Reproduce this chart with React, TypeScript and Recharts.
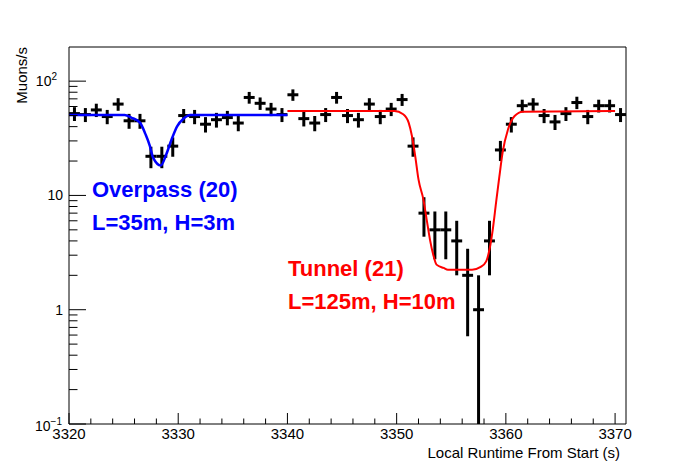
import { ComposedChart, Scatter, Line, XAxis, YAxis, ErrorBar } from 'recharts'

// 1 s bins, muon counts per bin
const binCenters = [
  3320.5, 3321.5, 3322.5, 3323.5, 3324.5, 3325.5, 3326.5, 3327.5, 3328.5, 3329.5,
  3330.5, 3331.5, 3332.5, 3333.5, 3334.5, 3335.5, 3336.5, 3337.5, 3338.5, 3339.5,
  3340.5, 3341.5, 3342.5, 3343.5, 3344.5, 3345.5, 3346.5, 3347.5, 3348.5, 3349.5,
  3350.5, 3351.5, 3352.5, 3353.5, 3354.5, 3355.5, 3356.5, 3357.5, 3358.5, 3359.5,
  3360.5, 3361.5, 3362.5, 3363.5, 3364.5, 3365.5, 3366.5, 3367.5, 3368.5, 3369.5,
  3370.5,
]
const muonRate = [
  52, 51, 56, 49, 63, 45, 45, 22, 22, 27,
  50, 49, 42, 46, 48, 43, 72, 64, 57, 51,
  76, 47, 43, 51, 72, 50, 46, 63, 49, 57,
  69, 27, 7, 5, 5, 4, 2, 1, 4, 25,
  42, 61, 63, 50, 44, 52, 65, 49, 61, 61,
  51,
]

// fit curves
const overpassFitT = [3320, 3325.1, 3325.7, 3326.5, 3327.0, 3327.4, 3327.7, 3328.4, 3328.9, 3329.4, 3329.9, 3330.5, 3331.1, 3340]
const overpassFitRate = [50.6, 50.6, 48, 43.4, 34.4, 27.2, 21.4, 18.3, 22.8, 31, 40.2, 47.1, 50.6, 50.6]

const tunnelFitT = [
  3340, 3349.8, 3350.6, 3351.1, 3351.4, 3351.7, 3352.0, 3352.45, 3352.75, 3353.05, 3353.35, 3353.65,
  3354.3, 3354.7, 3356.9, 3357.7, 3358.2, 3358.5, 3358.8, 3359.1, 3359.4, 3359.7, 3360.2, 3360.8, 3361.55, 3370,
]
const tunnelFitRate = [
  54.8, 54.8, 51.4, 43.4, 33.1, 22.1, 13.8, 9.2, 6.15, 4.11, 3.03, 2.48,
  2.32, 2.24, 2.24, 2.37, 2.65, 3.36, 5.03, 8.6, 14.5, 23.7, 37.9, 49.6, 54.1, 54.8,
]

const xTicks = [3320, 3322, 3324, 3326, 3328, 3330, 3332, 3334, 3336, 3338, 3340, 3342, 3344, 3346, 3348, 3350, 3352, 3354, 3356, 3358, 3360, 3362, 3364, 3366, 3368, 3370]
const yTicks = [
  0.1, 0.2, 0.3, 0.4, 0.5, 0.6, 0.7, 0.8, 0.9,
  1, 2, 3, 4, 5, 6, 7, 8, 9,
  10, 20, 30, 40, 50, 60, 70, 80, 90,
  100,
]
const yMajor = [0.1, 1, 10, 100]

const X_MIN = 3320
const X_MAX = 3371
const Y_MIN = 0.1
const Y_MAX = 199

const FONT = '"Liberation Sans", Arial, Helvetica, sans-serif'

const points = binCenters.map((t, i) => {
  const v = muonRate[i]
  const err = Math.sqrt(v) // poisson error on counts
  return { x: t, y: v, ex: 0.5, ey: [Math.min(err, v - Y_MIN), err] }
})
const overpassFit = overpassFitT.map((t, i) => ({ x: t, y: overpassFitRate[i] }))
const tunnelFit = tunnelFitT.map((t, i) => ({ x: t, y: tunnelFitRate[i] }))

const XTick = (props: any) => {
  const { x, y, payload } = props
  const major = payload.value % 10 === 0
  return (
    <g>
      <line x1={x} x2={x} y1={y} y2={y - (major ? 11 : 5.5)} stroke="#000" />
      {major && (
        <text x={x} y={y + 15} textAnchor="middle" fontSize={15} fontFamily={FONT} fill="#000">
          {payload.value}
        </text>
      )}
    </g>
  )
}

const YTick = (props: any) => {
  const { x, y, payload } = props
  const v = payload.value
  const major = yMajor.includes(v)
  let label = null
  if (v === 100) {
    label = (
      <text x={x - 12} y={y + 5} textAnchor="end" fontSize={14} fontFamily={FONT} fill="#000">
        10<tspan fontSize={10} dy={-6}>2</tspan>
      </text>
    )
  } else if (v === 0.1) {
    label = (
      <text x={x - 7} y={y + 7} textAnchor="end" fontSize={14} fontFamily={FONT} fill="#000">
        10<tspan fontSize={10} dy={-6}>−1</tspan>
      </text>
    )
  } else if (major) {
    label = (
      <text x={x - 6} y={y + 5} textAnchor="end" fontSize={14} fontFamily={FONT} fill="#000">
        {v}
      </text>
    )
  }
  return (
    <g>
      <line x1={x} x2={x + (major ? 17 : 8.5)} y1={y} y2={y} stroke="#000" />
      {label}
    </g>
  )
}

export default function App() {
  return (
    <div style={{ position: 'absolute', left: 0, top: 0, width: 696, height: 472, background: '#fff' }}>
      <ComposedChart width={696} height={472} margin={{ top: 46, right: 69, bottom: 8, left: 9 }}>
        <XAxis
          dataKey="x"
          type="number"
          domain={[X_MIN, X_MAX]}
          allowDataOverflow
          ticks={xTicks}
          interval={0}
          tick={<XTick />}
          tickLine={false}
          tickSize={0}
          tickMargin={0}
          height={40}
          axisLine={{ stroke: '#000' }}
        />
        <XAxis
          xAxisId="top"
          orientation="top"
          type="number"
          domain={[X_MIN, X_MAX]}
          tick={false}
          tickLine={false}
          height={1}
          axisLine={{ stroke: '#000' }}
        />
        <YAxis
          type="number"
          scale="log"
          domain={[Y_MIN, Y_MAX]}
          allowDataOverflow
          ticks={yTicks}
          interval={0}
          tick={<YTick />}
          tickLine={false}
          tickSize={0}
          tickMargin={0}
          width={60}
          axisLine={{ stroke: '#000' }}
        />
        <YAxis
          yAxisId="right"
          orientation="right"
          type="number"
          domain={[0, 1]}
          tick={false}
          tickLine={false}
          width={1}
          axisLine={{ stroke: '#000' }}
        />
        <Scatter data={points} dataKey="y" isAnimationActive={false} shape={() => <g />}>
          <ErrorBar dataKey="ey" direction="y" width={0} stroke="#000" strokeWidth={3} isAnimationActive={false} />
          <ErrorBar dataKey="ex" direction="x" width={0} stroke="#000" strokeWidth={3} isAnimationActive={false} />
        </Scatter>
        <Line data={overpassFit} dataKey="y" type="monotone" stroke="#0000ff" strokeWidth={2.5} dot={false} isAnimationActive={false} />
        <Line data={tunnelFit} dataKey="y" type="monotone" stroke="#ff0000" strokeWidth={2} dot={false} isAnimationActive={false} />
      </ComposedChart>
      <svg width={696} height={472} style={{ position: 'absolute', left: 0, top: 0, pointerEvents: 'none' }} fontFamily={FONT}>
        <text x={92} y={197} fontSize={22} fontWeight="bold" fill="#0000ff">Overpass (20)</text>
        <text x={92} y={230} fontSize={22} fontWeight="bold" fill="#0000ff">L=35m, H=3m</text>
        <text x={288} y={276} fontSize={22} fontWeight="bold" fill="#ff0000">Tunnel (21)</text>
        <text x={288} y={309} fontSize={22} fontWeight="bold" fill="#ff0000">L=125m, H=10m</text>
        <text x={620} y={458} fontSize={15} textAnchor="end" fill="#000">Local Runtime From Start (s)</text>
        <text transform="translate(27,47) rotate(-90)" fontSize={15} textAnchor="end" fill="#000">Muons/s</text>
      </svg>
    </div>
  )
}
